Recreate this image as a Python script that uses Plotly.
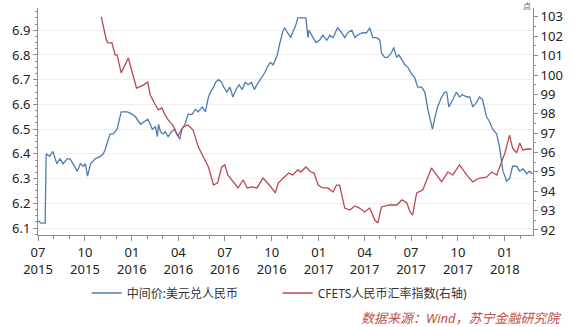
import plotly.graph_objects as go

# 中间价:美元兑人民币 (left axis)
usd_dates = [
    "2015-07-01", "2015-07-07", "2015-07-15", "2015-07-17", "2015-07-24", "2015-07-30",
    "2015-08-07", "2015-08-13", "2015-08-19", "2015-08-27", "2015-09-02", "2015-09-08",
    "2015-09-16", "2015-09-22", "2015-09-28", "2015-10-02", "2015-10-06", "2015-10-12",
    "2015-10-21", "2015-10-31", "2015-11-06", "2015-11-10", "2015-11-19", "2015-11-25",
    "2015-12-03", "2015-12-11", "2015-12-23", "2016-01-02", "2016-01-08", "2016-01-18",
    "2016-01-24", "2016-02-01", "2016-02-06", "2016-02-10", "2016-02-16", "2016-02-20",
    "2016-02-22", "2016-02-26", "2016-03-02", "2016-03-06", "2016-03-12", "2016-03-19",
    "2016-03-25", "2016-03-29", "2016-04-04", "2016-04-08", "2016-04-14", "2016-04-20",
    "2016-04-28", "2016-05-04", "2016-05-10", "2016-05-18", "2016-05-24", "2016-05-30",
    "2016-06-03", "2016-06-09", "2016-06-13", "2016-06-19", "2016-06-25", "2016-06-29",
    "2016-07-05", "2016-07-11", "2016-07-17", "2016-07-23", "2016-07-29", "2016-08-04",
    "2016-08-10", "2016-08-16", "2016-08-22", "2016-08-28", "2016-09-02", "2016-09-12",
    "2016-09-18", "2016-09-22", "2016-09-28", "2016-10-04", "2016-10-12", "2016-10-16",
    "2016-10-22", "2016-10-26", "2016-11-01", "2016-11-07", "2016-11-11", "2016-11-17",
    "2016-11-21", "2016-11-27", "2016-12-07", "2016-12-11", "2016-12-13", "2016-12-21",
    "2016-12-27", "2017-01-03", "2017-01-09", "2017-01-17", "2017-01-23", "2017-01-29",
    "2017-02-07", "2017-02-15", "2017-02-21", "2017-02-27", "2017-03-07", "2017-03-13",
    "2017-03-18", "2017-03-28", "2017-04-05", "2017-04-11", "2017-04-17", "2017-04-25",
    "2017-05-01", "2017-05-04", "2017-05-10", "2017-05-16", "2017-05-24", "2017-05-28",
    "2017-06-03", "2017-06-07", "2017-06-13", "2017-06-19", "2017-06-25", "2017-07-03",
    "2017-07-08", "2017-07-14", "2017-07-22", "2017-07-28", "2017-08-03", "2017-08-08",
    "2017-08-12", "2017-08-16", "2017-08-22", "2017-08-30", "2017-09-05", "2017-09-09",
    "2017-09-13", "2017-09-21", "2017-09-28", "2017-10-04", "2017-10-10", "2017-10-18",
    "2017-10-24", "2017-10-30", "2017-11-07", "2017-11-12", "2017-11-18", "2017-11-26",
    "2017-12-02", "2017-12-08", "2017-12-16", "2017-12-22", "2017-12-28", "2018-01-01",
    "2018-01-04", "2018-01-10", "2018-01-16", "2018-01-24", "2018-01-30", "2018-02-05",
    "2018-02-13", "2018-02-18", "2018-02-24",
]
usd_cny = [
    6.13, 6.12, 6.12, 6.40, 6.39, 6.41,
    6.36, 6.38, 6.36, 6.38, 6.38, 6.36,
    6.33, 6.36, 6.35, 6.36, 6.31, 6.36,
    6.38, 6.39, 6.40, 6.42, 6.48, 6.48,
    6.50, 6.57, 6.57, 6.56, 6.55, 6.52,
    6.53, 6.54, 6.52, 6.50, 6.51, 6.47,
    6.52, 6.49, 6.48, 6.49, 6.47, 6.49,
    6.50, 6.48, 6.46, 6.50, 6.52, 6.56,
    6.56, 6.58, 6.57, 6.59, 6.57, 6.63,
    6.65, 6.67, 6.69, 6.70, 6.69, 6.67,
    6.65, 6.67, 6.63, 6.66, 6.68, 6.66,
    6.69, 6.68, 6.69, 6.66, 6.68, 6.71,
    6.73, 6.75, 6.77, 6.76, 6.80, 6.84,
    6.89, 6.91, 6.89, 6.87, 6.89, 6.92,
    6.95, 6.95, 6.95, 6.87, 6.90, 6.87,
    6.85, 6.86, 6.88, 6.86, 6.88, 6.87,
    6.91, 6.89, 6.87, 6.89, 6.90, 6.87,
    6.88, 6.89, 6.89, 6.91, 6.87, 6.87,
    6.86, 6.81, 6.79, 6.79, 6.81, 6.83,
    6.79, 6.80, 6.78, 6.76, 6.75, 6.72,
    6.71, 6.67, 6.67, 6.65, 6.58, 6.54,
    6.50, 6.54, 6.59, 6.63, 6.65, 6.65,
    6.59, 6.62, 6.65, 6.63, 6.64, 6.63,
    6.63, 6.59, 6.61, 6.63, 6.62, 6.55,
    6.53, 6.50, 6.48, 6.42, 6.33, 6.31,
    6.29, 6.30, 6.35, 6.35, 6.33, 6.34,
    6.32, 6.33, 6.32,
]

# CFETS人民币汇率指数 (right axis)
cfets_dates = [
    "2015-11-02", "2015-11-12", "2015-11-15", "2015-11-23", "2015-11-29", "2015-12-03",
    "2015-12-11", "2015-12-25", "2016-01-10", "2016-01-24", "2016-02-01", "2016-02-06",
    "2016-02-16", "2016-02-22", "2016-02-29", "2016-03-06", "2016-03-12", "2016-03-21",
    "2016-03-31", "2016-04-10", "2016-04-20", "2016-04-30", "2016-05-10", "2016-05-20",
    "2016-05-30", "2016-06-09", "2016-06-17", "2016-06-25", "2016-07-01", "2016-07-07",
    "2016-07-17", "2016-07-27", "2016-08-06", "2016-08-14", "2016-08-24", "2016-09-02",
    "2016-09-14", "2016-09-28", "2016-10-08", "2016-10-14", "2016-10-24", "2016-11-03",
    "2016-11-11", "2016-11-21", "2016-11-27", "2016-12-07", "2016-12-17", "2016-12-23",
    "2016-12-31", "2017-01-09", "2017-01-19", "2017-01-29", "2017-02-05", "2017-02-11",
    "2017-02-21", "2017-03-03", "2017-03-13", "2017-03-22", "2017-04-01", "2017-04-11",
    "2017-04-21", "2017-04-27", "2017-05-04", "2017-05-20", "2017-06-03", "2017-06-13",
    "2017-06-23", "2017-06-29", "2017-07-04", "2017-07-12", "2017-07-24", "2017-08-10",
    "2017-08-20", "2017-08-30", "2017-09-11", "2017-09-21", "2017-10-04", "2017-10-18",
    "2017-10-30", "2017-11-12", "2017-11-26", "2017-12-06", "2017-12-16", "2017-12-22",
    "2018-01-01", "2018-01-10", "2018-01-16", "2018-01-24", "2018-01-30", "2018-02-05",
    "2018-02-14", "2018-02-22",
]
cfets_index = [
    103.00, 101.80, 101.66, 101.66, 101.04, 101.04,
    100.11, 100.88, 99.33, 99.49, 99.64, 98.97,
    98.45, 98.20, 98.30, 97.94, 97.68, 97.42,
    96.85, 97.32, 97.42, 97.16, 96.29, 95.77,
    95.25, 94.32, 94.43, 95.25, 95.36, 94.84,
    94.48, 94.17, 94.58, 94.17, 94.22, 94.17,
    94.68, 94.27, 93.91, 94.43, 94.68, 94.94,
    94.84, 95.10, 94.99, 95.25, 94.99, 94.94,
    94.32, 94.17, 94.17, 93.96, 94.32, 94.32,
    93.13, 93.03, 93.24, 93.13, 92.93, 93.13,
    92.51, 92.36, 93.19, 93.29, 93.29, 93.55,
    93.39, 92.93, 92.77, 93.91, 94.06, 95.20,
    94.84, 94.48, 94.99, 94.84, 95.36, 94.84,
    94.48, 94.68, 94.73, 94.99, 94.84, 95.25,
    95.98, 96.90, 96.23, 95.98, 96.49, 96.13,
    96.18, 96.18,
]

# Quarterly date ticks
x_tick_dates = ["2015-07-01", "2015-10-01", "2016-01-01", "2016-04-01", "2016-07-01",
                "2016-10-01", "2017-01-01", "2017-04-01", "2017-07-01", "2017-10-01",
                "2018-01-01"]
x_tick_labels = ["07<br>2015", "10<br>2015", "01<br>2016", "04<br>2016", "07<br>2016",
                 "10<br>2016", "01<br>2017", "04<br>2017", "07<br>2017", "10<br>2017",
                 "01<br>2018"]
left_ticks = [6.1, 6.2, 6.3, 6.4, 6.5, 6.6, 6.7, 6.8, 6.9]
right_ticks = [92, 93, 94, 95, 96, 97, 98, 99, 100, 101, 102, 103]

BLUE = "#4f7cb2"
RED = "#bd4651"
AXIS = "#8c8c8c"
FONT = "Noto Sans, Noto Sans CJK SC, sans-serif"

fig = go.Figure()
fig.add_trace(go.Scatter(
    x=usd_dates, y=usd_cny, mode="lines", name="中间价:美元兑人民币",
    line=dict(color=BLUE, width=1.3),
))
fig.add_trace(go.Scatter(
    x=cfets_dates, y=cfets_index, mode="lines", name="CFETS人民币汇率指数(右轴)",
    line=dict(color=RED, width=1.3), yaxis="y2",
))

fig.update_layout(
    width=574, height=327,
    margin=dict(l=38, r=41, t=8, b=92, autoexpand=False),
    paper_bgcolor="white", plot_bgcolor="white",
    font=dict(family=FONT, size=13, color="#222222"),
    showlegend=True,
    legend=dict(
        orientation="h", xref="container", yref="container",
        x=0.151, y=0.104, xanchor="left", yanchor="middle",
        font=dict(size=12, color="#333333"),
        entrywidth=146, entrywidthmode="pixels",
        bgcolor="rgba(0,0,0,0)",
    ),
    xaxis=dict(
        type="date", range=["2015-07-01", "2018-02-25"],
        tickmode="array", tickvals=x_tick_dates, ticktext=x_tick_labels,
        ticks="outside", ticklen=5, tickcolor=AXIS,
        showline=True, linecolor=AXIS, linewidth=1,
        showgrid=False, zeroline=False,
        tickfont=dict(size=13, color="#222222"),
        minor=dict(ticks="outside", ticklen=3, tickcolor=AXIS,
                   dtick="M1", tick0="2015-07-01", showgrid=False),
    ),
    yaxis=dict(
        range=[6.072, 6.99],
        tickmode="array", tickvals=left_ticks,
        ticktext=[f"{v:.1f}" for v in left_ticks],
        ticks="outside", ticklen=4, tickcolor=AXIS,
        showline=True, linecolor=AXIS, linewidth=1,
        showgrid=True, gridcolor="#eeeeee", gridwidth=1, zeroline=False,
        tickfont=dict(size=13, color="#222222"),
        minor=dict(ticks="outside", ticklen=2, tickcolor=AXIS,
                   dtick=0.025, tick0=6.1, showgrid=False),
    ),
    yaxis2=dict(
        overlaying="y", side="right",
        range=[91.74, 103.46],
        tickmode="array", tickvals=right_ticks,
        ticktext=[str(v) for v in right_ticks],
        ticks="outside", ticklen=4, tickcolor=AXIS,
        showline=True, linecolor=AXIS, linewidth=1,
        showgrid=False, zeroline=False,
        tickfont=dict(size=13, color="#222222"),
        minor=dict(ticks="outside", ticklen=2, tickcolor=AXIS,
                   dtick=0.5, tick0=92, showgrid=False),
    ),
)

# unit mark above the right axis
fig.add_annotation(
    text="点", xref="paper", yref="paper", x=0.988, y=1.01,
    xanchor="center", yanchor="middle", showarrow=False,
    font=dict(size=8, color="#555555"),
)
# data source note
fig.add_annotation(
    text="<i>数据来源：Wind，苏宁金融研究院</i>",
    xref="paper", yref="paper", x=1.062, y=-0.366,
    xanchor="right", yanchor="middle", showarrow=False,
    font=dict(size=13, color="#c0504d"),
)

fig.write_html("out.html")
